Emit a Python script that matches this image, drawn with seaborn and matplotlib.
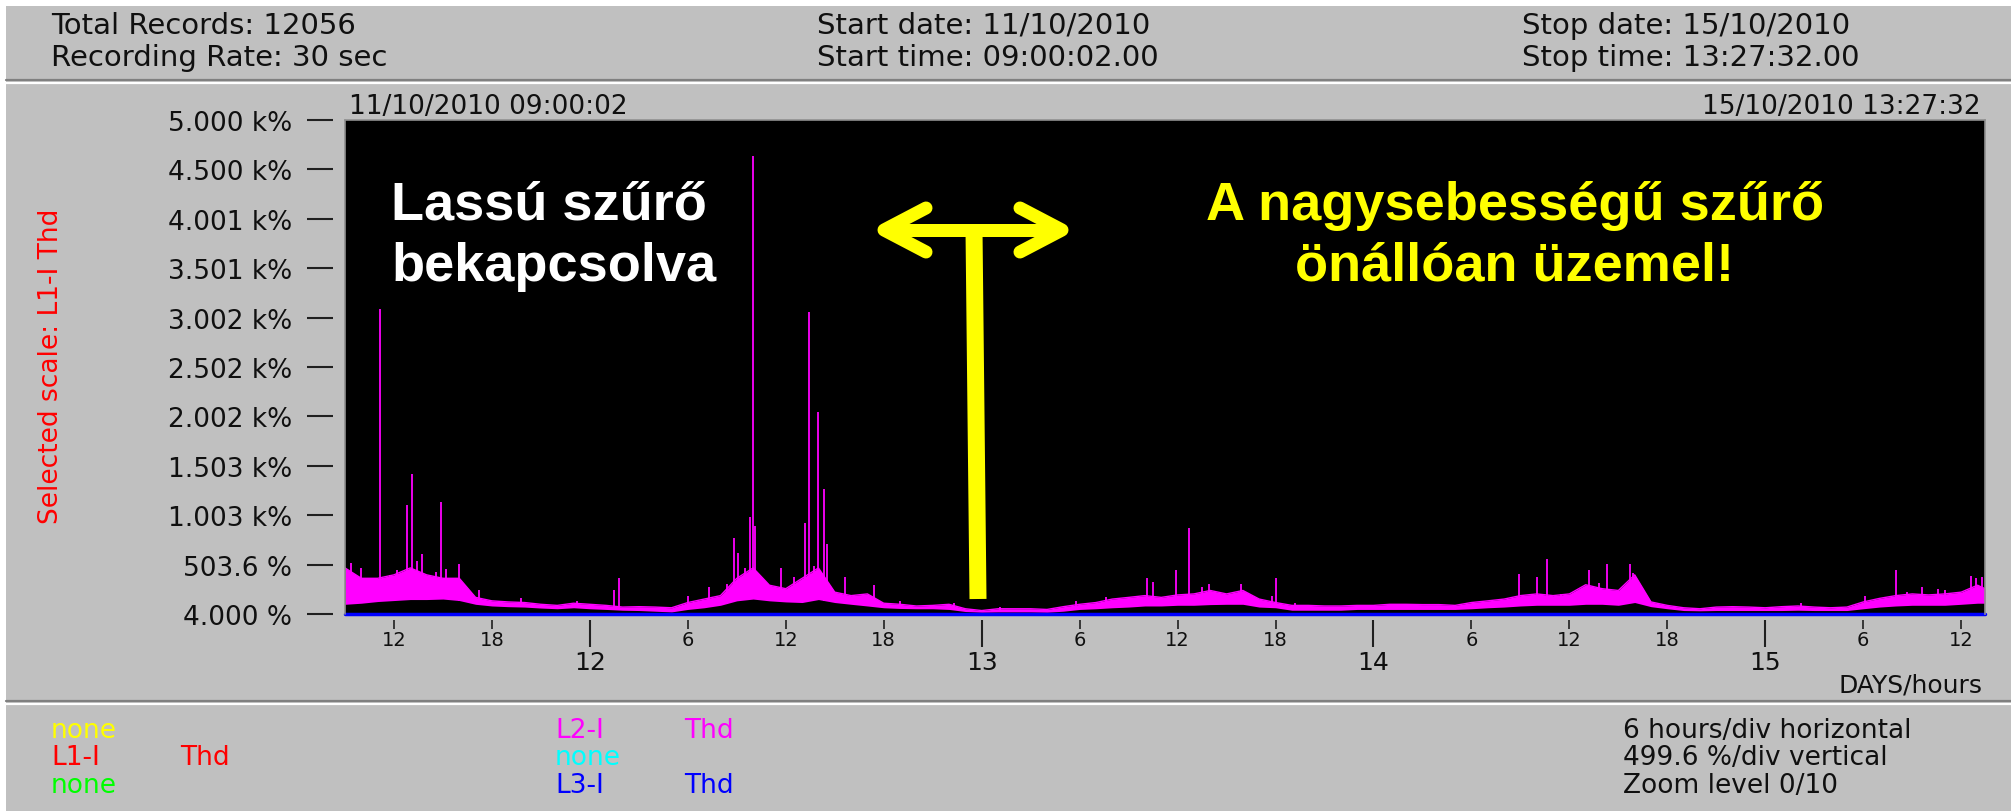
#!/usr/bin/env python3
"""
Power analyser screenshot: L2-I THD over 11-15/10/2010 with the filter annotations.
Saves out.png (2011x812).
"""

import numpy as np
import matplotlib
matplotlib.use("Agg")
import matplotlib.pyplot as plt
from matplotlib.lines import Line2D
from matplotlib.patches import Rectangle
from matplotlib.transforms import Affine2D
import seaborn as sns

sns.set_style("white")
plt.rcParams['font.family'] = ['DejaVu Sans']

W, H = 2011, 812

# recording window (day of month, clock hour)
start_day, start_clock = 11, 9 + 2 / 3600
stop_day, stop_clock = 15, 13 + 27 / 60 + 32 / 3600
days = [12, 13, 14, 15]
hour_marks = [6, 12, 18]

# vertical scale 4 % .. 5000 %, 499.6 %/div
y_ticks = [4.0, 503.6, 1003.2, 1502.8, 2002.4, 2502.0, 3001.6, 3501.2, 4000.8, 4500.4, 5000.0]
y_tick_labels = ["4.000 %", "503.6 %", "1.003 k%", "1.503 k%", "2.002 k%", "2.502 k%",
                 "3.002 k%", "3.501 k%", "4.001 k%", "4.500 k%", "5.000 k%"]

# L2-I Thd: hourly noise band (lower / upper edge), in %
band_hours = list(range(101)) + [100.46]
band_low = [102, 113, 130, 140, 150, 150, 155, 140, 102, 85,
            78, 74, 64, 57, 67, 57, 50, 42, 39, 32,
            25, 50, 67, 92, 137, 155, 137, 126, 120, 150,
            120, 102, 85, 67, 60, 57, 57, 50, 29, 22,
            25, 25, 25, 22, 32, 50, 57, 67, 74, 85,
            85, 92, 92, 99, 102, 102, 74, 67, 42, 42,
            42, 42, 50, 50, 50, 50, 50, 50, 50, 57,
            67, 74, 85, 92, 92, 92, 102, 102, 92, 120,
            78, 57, 39, 36, 39, 39, 39, 39, 39, 42,
            39, 39, 39, 57, 74, 85, 92, 92, 92, 102,
            113, 113]
band_high = [470, 365, 365, 400, 470, 400, 365, 365, 172, 137,
             126, 120, 102, 91, 113, 102, 91, 74, 78, 74,
             67, 120, 155, 190, 365, 470, 295, 260, 365, 470,
             225, 190, 207, 113, 102, 85, 91, 102, 57, 39,
             57, 57, 57, 50, 78, 102, 120, 155, 172, 190,
             172, 197, 207, 242, 207, 242, 155, 120, 91, 91,
             85, 85, 91, 91, 102, 102, 99, 99, 91, 120,
             137, 155, 190, 207, 190, 207, 300, 260, 242, 400,
             126, 91, 67, 57, 74, 78, 74, 67, 78, 85,
             74, 67, 74, 126, 162, 190, 207, 197, 207, 225,
             295, 260]

# single spikes above the band (hours from start, %)
spike_hours = [0.39, 1.0, 2.14, 2.76, 3.2, 3.79, 4.1, 4.4, 4.7, 5.6,
               5.85, 6.16, 7.0, 8.2, 10.8, 14.2, 16.5, 16.8, 21.0, 22.3,
               23.4, 23.8, 24.1, 24.5, 24.8, 25.0, 25.1, 26.7, 27.5, 28.2,
               28.4, 28.7, 29.0, 29.35, 29.5, 30.65, 32.4,
               34.0, 37.3, 40.1, 44.8, 46.6, 49.15, 49.5, 50.9, 51.7, 52.5,
               52.9, 54.9, 56.8, 57.05, 58.2,
               71.9, 73.0, 73.6, 74.5, 76.2, 76.8, 77.3, 78.7, 78.9, 89.2,
               93.1, 95.0, 95.7, 96.6, 97.6, 98.0, 99.6, 99.9, 100.25]
spike_values = [522, 470, 3090, 400, 452, 1107, 1422, 540, 610, 424,
                1140, 462, 505, 242, 165, 137, 242, 365, 190, 277,
                312, 774, 624, 470, 990, 4636, 896, 470, 375, 925,
                3062, 487, 2046, 1270, 715, 375, 295,
                137, 120, 74, 137, 172, 365, 323, 445, 870, 277,
                312, 312, 190, 365, 120,
                407, 375, 557, 207, 445, 320, 512, 512, 417, 120,
                190, 445, 225, 277, 260, 242, 393, 365, 375]

# L3-I Thd sits on the bottom of the scale the whole time
l3_values = [4, 4]

MAGENTA = "#ff00ff"
YELLOW = "#ffff00"


def hours_from_start(day, clock):
    return (day - start_day) * 24 + clock - start_clock


def main():
    stop_h = hours_from_start(stop_day, stop_clock)
    day_pos = [hours_from_start(d, 0) for d in days]
    hour_pos, hour_lab = [], []
    for d in [start_day] + days:
        for c in hour_marks:
            h = hours_from_start(d, c)
            if 0 < h < stop_h:
                hour_pos.append(h)
                hour_lab.append(str(c))

    fig = plt.figure(figsize=(W / 100, H / 100), dpi=100)
    fig.patch.set_facecolor("white")
    # pixel coords, origin top-left
    pix = Affine2D().scale(1 / W, -1 / H).translate(0, 1) + fig.transFigure

    # grey window + separators
    fig.add_artist(Rectangle((6, 7), W - 6, H - 7, transform=pix,
                             facecolor="#c0c0c0", edgecolor="none", zorder=0))
    for y, c in [(81, "#808080"), (84, "white"), (702, "#808080"), (705, "white")]:
        fig.add_artist(Line2D([6, W], [y, y], transform=pix, color=c, lw=1.6))

    # plot area
    ax = fig.add_axes([345 / W, 1 - 615 / H, (1985 - 345) / W, (615 - 121) / H])
    ax.set_facecolor("black")

    ax.fill_between(band_hours, band_low, band_high, color=MAGENTA, lw=0)
    sns.lineplot(x=band_hours, y=band_high, ax=ax, color=MAGENTA, lw=1)
    base = np.interp(spike_hours, band_hours, band_low)
    ax.vlines(spike_hours, base, spike_values, color=MAGENTA, lw=1.3)
    sns.lineplot(x=[0, stop_h], y=l3_values, ax=ax, color="#0000ff", lw=2.5, clip_on=False)

    ax.set_xlim(0, stop_h)
    ax.set_ylim(4, 5000)
    ax.set_xlabel("")
    ax.set_ylabel("")

    for s in ["top", "right"]:
        ax.spines[s].set_color("#909090")
        ax.spines[s].set_linewidth(1.2)
    ax.spines["left"].set_position(("outward", 12 * 0.72))
    ax.spines["bottom"].set_position(("outward", 6 * 0.72))
    ax.spines["left"].set_visible(False)
    ax.spines["bottom"].set_visible(False)
    ax.axvline(0, color="#909090", lw=1.2, clip_on=False)

    ax.set_yticks(y_ticks, y_tick_labels)
    ax.tick_params(axis="y", left=True, direction="out", length=26 * 0.72, width=1.5,
                   color="#202020", pad=15 * 0.72, labelsize=19, labelcolor="#101010")
    ax.set_xticks(day_pos, [str(d) for d in days])
    ax.set_xticks(hour_pos, hour_lab, minor=True)
    ax.tick_params(axis="x", which="major", bottom=True, direction="out", length=27 * 0.72,
                   width=1.5, color="#202020", pad=2, labelsize=18, labelcolor="#101010")
    ax.tick_params(axis="x", which="minor", bottom=True, direction="out", length=9 * 0.72,
                   width=1.2, color="#202020", pad=1, labelsize=14, labelcolor="#101010")

    # header
    hdr = dict(transform=pix, va="center", ha="left", fontsize=21, color="#101010")
    fig.text(51, 26, "Total Records: 12056", **hdr)
    fig.text(51, 58, "Recording Rate: 30 sec", **hdr)
    fig.text(817, 26, "Start date: 11/10/2010", **hdr)
    fig.text(817, 58, "Start time: 09:00:02.00", **hdr)
    fig.text(1522, 26, "Stop date: 15/10/2010", **hdr)
    fig.text(1522, 58, "Stop time: 13:27:32.00", **hdr)

    fig.text(349, 107, "11/10/2010 09:00:02", transform=pix, va="center", ha="left",
             fontsize=19, color="#101010")
    fig.text(1981, 107, "15/10/2010 13:27:32", transform=pix, va="center", ha="right",
             fontsize=19, color="#101010")
    fig.text(51, 366, "Selected scale: L1-I Thd", transform=pix, rotation=90,
             va="center", ha="center", fontsize=19, color="#ff0000")
    fig.text(1983, 686, "DAYS/hours", transform=pix, va="center", ha="right",
             fontsize=18, color="#101010")

    # channel legend + scale info
    leg = dict(transform=pix, va="center", ha="left", fontsize=19)
    fig.text(51, 731, "none", color="#ffff00", **leg)
    fig.text(51, 758, "L1-I", color="#ff0000", **leg)
    fig.text(180, 758, "Thd", color="#ff0000", **leg)
    fig.text(51, 786, "none", color="#00ff00", **leg)
    fig.text(555, 731, "L2-I", color=MAGENTA, **leg)
    fig.text(684, 731, "Thd", color=MAGENTA, **leg)
    fig.text(555, 758, "none", color="#00ffff", **leg)
    fig.text(555, 786, "L3-I", color="#0000ff", **leg)
    fig.text(684, 786, "Thd", color="#0000ff", **leg)
    fig.text(1623, 731, "6 hours/div horizontal", color="#101010", **leg)
    fig.text(1623, 758, "499.6 %/div vertical", color="#101010", **leg)
    fig.text(1623, 786, "Zoom level 0/10", color="#101010", **leg)

    # slide annotations
    big = dict(transform=pix, va="baseline", fontsize=39, fontweight="bold",
               family=["Liberation Sans", "DejaVu Sans"])
    fig.text(391, 220, "Lassú szűrő", color="white", ha="left", **big)
    fig.text(391, 281, "bekapcsolva", color="white", ha="left", **big)
    fig.text(1515, 220, "A nagysebességű szűrő", color=YELLOW, ha="center", **big)
    fig.text(1515, 281, "önállóan üzemel!", color=YELLOW, ha="center", **big)

    # yellow T arrow
    fig.add_artist(Line2D([884, 1062], [231, 231], transform=pix, color=YELLOW,
                          lw=13 * 0.72, solid_capstyle="butt"))
    for xs in ([926, 884, 926], [1020, 1062, 1020]):
        fig.add_artist(Line2D(xs, [209, 231, 253], transform=pix, color=YELLOW,
                              lw=13 * 0.72, solid_capstyle="round", solid_joinstyle="round"))
    fig.add_artist(Line2D([974, 978], [231, 600], transform=pix, color=YELLOW,
                          lw=17 * 0.72, solid_capstyle="butt"))

    fig.savefig("out.png", dpi=100, facecolor=fig.get_facecolor())
    plt.close(fig)


if __name__ == "__main__":
    main()
